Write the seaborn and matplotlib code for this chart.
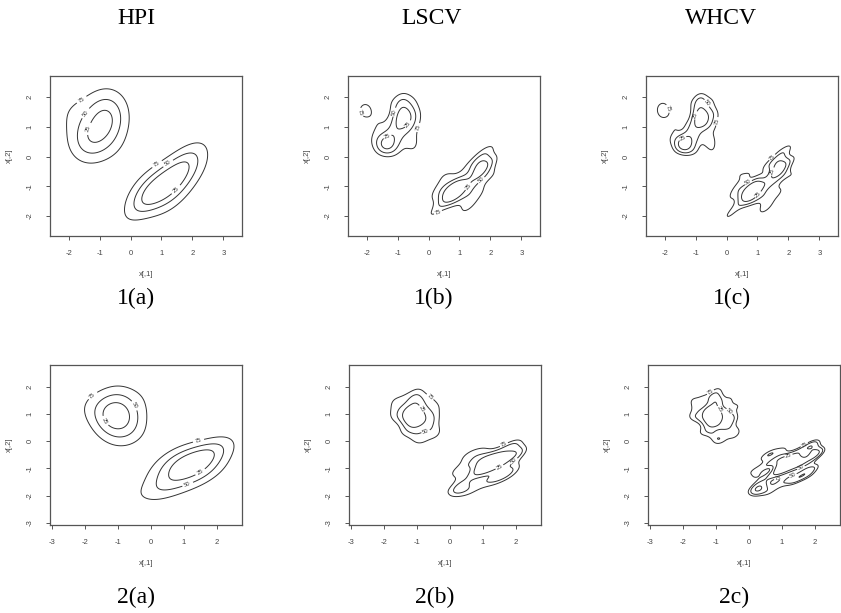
import numpy as np
import pandas as pd
import matplotlib
matplotlib.use("Agg")
import matplotlib.pyplot as plt
import seaborn as sns
from matplotlib.contour import ContourSet

# ---------------- data ----------------
# Sample 1 (top row): two groups of observations
s1_g1_x = [-2.05, -2.0, -2.1, -1.45, -1.35, -1.3, -1.2, -1.5, -1.25, -1.6,
           -0.85, -0.8, -0.75, -0.9, -0.7, -0.85, -0.95, -0.65, -0.8, -1.0,
           -1.05, -0.95, -1.1, -0.6, -0.5, -1.2, -1.7, -0.45, -1.0,
           -0.4, -0.45, -1.55, -1.4, -0.5, -1.8, -0.35,
           -0.85, -0.8, -1.35]
s1_g1_y = [1.55, 1.45, 1.7, 0.4, 0.5, 0.35, 0.55, 0.6, 0.25, 0.3,
           1.2, 1.5, 1.7, 1.9, 1.3, 1.0, 1.4, 1.1, 2.0, 1.7,
           0.8, 0.6, 1.1, 0.6, 1.5, 0.9, 1.0, 0.2, 0.2,
           1.0, 1.9, 1.3, 1.9, 0.5, 0.6, 1.4,
           1.35, 1.25, 0.45]
s1_g2_x = [0.05, 0.8, 0.9, 0.75, 0.85, 0.7, 1.0, 0.95, 0.6, 0.65, 1.1, 0.5,
           1.65, 1.7, 1.75, 1.6, 1.8, 1.55, 1.7, 2.1, 1.9,
           1.3, 1.2, 1.4, 0.4, 1.3, 0.3,
           0.35, 0.7, 1.25, 1.7, 2.2, 1.3, 0.2, 2.0, 1.5,
           0.8, 0.9, 0.85, 1.7, 1.65]
s1_g2_y = [-2.0, -1.1, -1.0, -1.3, -1.45, -1.2, -1.2, -0.8, -1.0, -1.5, -1.4, -1.3,
           -0.5, -0.3, -0.1, -0.7, -0.4, -0.2, 0.1, -0.1, -0.6,
           -0.8, -1.0, -1.3, -0.6, -1.6, -1.7,
           -1.0, -0.6, -1.75, -1.2, -0.6, -0.3, -1.3, 0.3, -1.0,
           -1.2, -1.15, -1.05, -0.45, -0.35]

# Sample 2 (bottom row)
s2_g1_x = [-2.15, 0.0, -1.15, -1.1, -1.2, -1.05, -1.25, -1.0, -1.3, -1.1, -0.95,
           -1.15, -0.9, -0.7, -0.65, -0.75, -0.6, -0.5, -0.4, -0.8,
           -1.6, -1.5, -1.7, -1.4, -1.0,
           -1.75, -0.35, -0.55, -1.45, -0.9, -0.3,
           -1.1, -1.05]
s2_g1_y = [1.3, 1.95, 1.0, 0.8, 1.2, 1.4, 0.6, 0.6, 1.0, 1.7, 1.1,
           0.3, 1.9, 0.9, 1.2, 0.5, 0.7, 0.2, 0.9, 0.1,
           1.2, 0.8, 1.5, 1.6, 0.0,
           0.9, 0.4, 1.6, 0.3, 1.5, 1.3,
           0.95, 0.85]
s2_g2_x = [-0.5, 0.25, 0.3, 0.2, 0.4, 0.15, 1.0, 0.95, 1.05, 0.9, 1.15, 0.8,
           1.4, 1.45, 1.35, 1.55, 1.95, 1.9, 2.0, 1.95, 2.1,
           0.6, 0.7, 1.2, 1.7, 0.5, 1.6,
           0.6, 1.3, 1.8, 0.45, 1.05, 1.85, 0.1, 1.5, 2.0, 0.9,
           1.2, 1.25, 1.1]
s2_g2_y = [-1.95, -1.6, -1.9, -1.3, -1.7, -1.8, -0.8, -1.0, -0.6, -1.2, -0.9, -0.7,
           -0.7, -0.9, -0.5, -0.8, -0.35, -0.2, -0.5, -0.05, -0.4,
           -1.3, -0.4, -1.3, -1.1, -0.9, -0.3,
           -1.9, -1.5, -1.25, -0.6, -0.3, -0.7, -1.1, -1.35, -0.95, -1.6,
           -0.85, -0.75, -0.95]

selectors = ["HPI", "LSCV", "WHCV"]
panel_labels = [["1(a)", "1(b)", "1(c)"], ["2(a)", "2(b)", "2c)"]]
prob_levels = [0.25, 0.5, 0.75]
contour_labels = ["75", "50", "25"]          # outer -> inner
row_xticks = [[-2, -1, 0, 1, 2, 3], [-3, -2, -1, 0, 1, 2]]
row_yticks = [[-2, -1, 0, 1, 2], [-3, -2, -1, 0, 1, 2]]

# ---------------- styling ----------------
bw_adjust = [[1.75, 0.85, 0.68], [1.5, 0.78, 0.62]]
row_xlim = [(-2.6, 3.6), (-3.05, 2.75)]
row_ylim = [(-2.67, 2.72), (-3.08, 2.8)]
lefts_px = [[50, 348, 646], [50, 349, 648]]
tops_px = [76, 365]
W_px, H_px = 192, 160
FW, FH = 841, 613
line_col = "#333333"
axis_col = "#555555"
tick_txt = "#444444"

plt.rcParams["font.family"] = ["Liberation Sans", "DejaVu Sans"]

def make_df(g1x, g1y, g2x, g2y):
    return pd.DataFrame({
        "x": g1x + g2x,
        "y": g1y + g2y,
        "grp": ["A"] * len(g1x) + ["B"] * len(g2x),
    })

samples = [make_df(s1_g1_x, s1_g1_y, s1_g2_x, s1_g2_y),
           make_df(s2_g1_x, s2_g1_y, s2_g2_x, s2_g2_y)]

fig = plt.figure(figsize=(FW / 100, FH / 100), dpi=100)

for r in range(2):
    for c in range(3):
        l, t = lefts_px[r][c], tops_px[r]
        ax = fig.add_axes([l / FW, 1 - (t + H_px) / FH, W_px / FW, H_px / FH])
        sns.kdeplot(data=samples[r], x="x", y="y", hue="grp",
                    levels=prob_levels, bw_adjust=bw_adjust[r][c],
                    common_norm=True, palette=[line_col, line_col],
                    linewidths=0.7, legend=False, ax=ax, cut=4,
                    gridsize=250)
        for coll in list(ax.collections):
            if isinstance(coll, ContourSet):
                levs = sorted(coll.levels)
                fmt = {lv: lab for lv, lab in zip(levs, contour_labels)}
                ax.clabel(coll, levels=coll.levels, fmt=fmt, fontsize=4.2,
                          inline=True, inline_spacing=1, colors=line_col)
        ax.set_xlim(*row_xlim[r])
        ax.set_ylim(*row_ylim[r])
        ax.set_xticks(row_xticks[r])
        ax.set_yticks(row_yticks[r])
        ax.set_xticklabels([str(v) for v in row_xticks[r]])
        ax.set_yticklabels([str(v) for v in row_yticks[r]], rotation=90,
                           va="center")
        ax.tick_params(direction="out", length=3, width=0.7, colors=axis_col,
                       labelcolor=tick_txt, labelsize=5.5)
        ax.tick_params(axis="x", pad=7)
        ax.tick_params(axis="y", pad=9)
        for sp in ax.spines.values():
            sp.set_color(axis_col)
            sp.set_linewidth(0.9)
        ax.set_xlabel("x[,1]", fontsize=5.5, color=tick_txt, labelpad=10)
        ax.set_ylabel("x[,2]", fontsize=5.5, color=tick_txt, labelpad=10)

        cx = l + W_px / 2 - 10
        ly = 298 if r == 0 else 597
        fig.text(cx / FW, 1 - ly / FH, panel_labels[r][c], ha="center",
                 va="center", fontsize=17, family="Liberation Serif")

title_x = [136, 432, 721]
for c in range(3):
    fig.text(title_x[c] / FW, 1 - 18 / FH, selectors[c], ha="center",
             va="center", fontsize=17, family="Liberation Serif")

fig.savefig("out.png", dpi=100, facecolor="white")
